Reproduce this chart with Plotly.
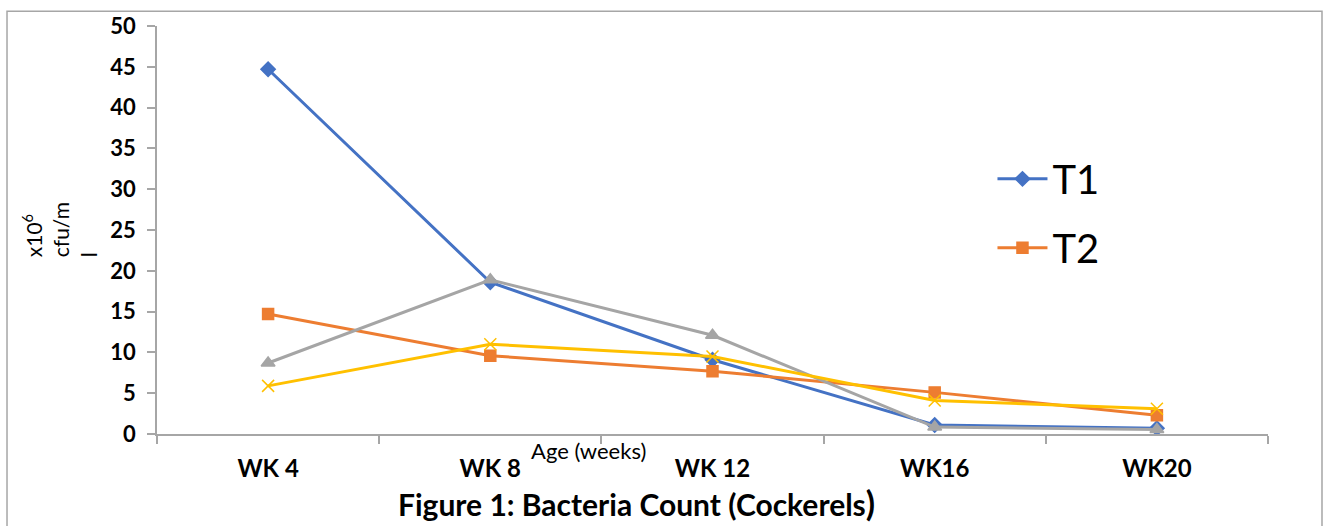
import plotly.graph_objects as go

# Bacteria counts (x10^6 cfu/ml) by age for each treatment
weeks = ["WK 4", "WK 8", "WK 12", "WK16", "WK20"]
t1 = [44.7, 18.6, 9.1, 1.1, 0.7]
t2 = [14.7, 9.6, 7.7, 5.1, 2.3]
t3 = [8.7, 18.9, 12.1, 0.85, 0.55]
t4 = [5.9, 11.0, 9.5, 4.1, 3.1]
y_ticks = [0, 5, 10, 15, 20, 25, 30, 35, 40, 45, 50]

series = [
    ("T1", t1, "#4472C4", "diamond", 11, True, "g1"),
    ("T2", t2, "#ED7D31", "square", 11, True, "g2"),
    ("T3", t3, "#A5A5A5", "triangle-up", 12, False, "g3"),
    ("T4", t4, "#FFC000", "x-thin-open", 12, False, "g4"),
]

fig = go.Figure()
for name, vals, color, sym, size, show, grp in series:
    fig.add_trace(go.Scatter(
        x=weeks, y=vals, name=name, mode="lines+markers",
        line=dict(color=color, width=3),
        marker=dict(symbol=sym, size=size, color=color,
                    line=dict(color=color, width=1.5)),
        showlegend=show, legendgroup=grp,
    ))

fig.update_layout(
    width=1332, height=526,
    margin=dict(l=157, r=64, t=22, b=92),
    paper_bgcolor="white", plot_bgcolor="white",
    font=dict(family="Lato", color="#000000"),
    xaxis=dict(
        type="category", range=[-0.5, 4.5],
        showline=True, linecolor="#A6A6A6", linewidth=1.5,
        ticks="outside", tickson="boundaries", ticklen=8,
        tickcolor="#A6A6A6", tickwidth=1.5,
        showgrid=False, zeroline=False,
        tickfont=dict(family="Lato", size=24, color="#000000", weight="bold"),
        ticklabelstandoff=12,
    ),
    yaxis=dict(
        range=[0, 50], tickvals=y_ticks,
        showline=True, linecolor="#A6A6A6", linewidth=1.5,
        ticks="outside", ticklen=8, tickcolor="#A6A6A6", tickwidth=1.5,
        showgrid=False, zeroline=False,
        tickfont=dict(family="Lato", size=22, color="#000000", weight="bold"),
        ticklabelstandoff=7,
    ),
    legend=dict(
        x=0.752, y=0.705, xanchor="left", yanchor="top",
        font=dict(family="Lato", size=40, color="#000000"),
        bgcolor="rgba(0,0,0,0)", tracegroupgap=14,
        itemwidth=50,
    ),
    shapes=[dict(
        type="rect", xref="paper", yref="paper",
        x0=-0.135, x1=1.0486, y0=-0.25, y1=1.0364,
        line=dict(color="#A6A6A6", width=1.5), fillcolor="rgba(0,0,0,0)",
        layer="below",
    )],
    annotations=[
        dict(text="x10<sup>6</sup><br>cfu/m<br>l", textangle=-90,
             xref="paper", yref="paper", x=-0.088, y=0.50,
             xanchor="center", yanchor="middle",
             showarrow=False, font=dict(family="Lato", size=21),
             align="left"),
        dict(text="Age (weeks)", xref="paper", yref="paper",
             x=0.388, y=-0.04, xanchor="center", yanchor="middle",
             showarrow=False, font=dict(family="Lato", size=22)),
        dict(text="<b>Figure 1: Bacteria Count (Cockerels</b><span style='font-size:34px'><b>)</b></span>",
             xref="paper", yref="paper", x=0.432, y=-0.168,
             xanchor="center", yanchor="middle",
             showarrow=False, font=dict(family="Lato", size=30)),
    ],
)

fig.write_html("out.html")
